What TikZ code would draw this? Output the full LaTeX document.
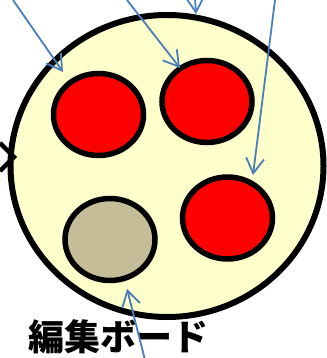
\documentclass[tikz,border=0pt]{standalone}
\usepackage{fontspec}
\newfontfamily\cjk{Noto Sans CJK JP}
\usetikzlibrary{shapes.geometric,arrows.meta}
\definecolor{boardyellow}{HTML}{FFFFCC}
\definecolor{pieceTan}{HTML}{C4BD97}
\definecolor{pointerblue}{HTML}{4A7EBB}
\tikzset{%
  board/.style   = {shape=ellipse, draw, line width=6pt, fill=boardyellow,%
                    minimum width=313pt, minimum height=302pt, inner sep=0pt},%
  piece/.style   = {shape=ellipse, draw, line width=5.5pt, fill=red,%
                    minimum width=90pt, minimum height=82pt, inner sep=0pt},%
  spare/.style   = {piece, fill=pieceTan},%
  pointer/.style = {draw=pointerblue, line width=1.8pt,%
                    -{Straight Barb[length=15pt,width=18pt,line width=1.8pt]}}%
}
\begin{document}
\begin{tikzpicture}[x=1pt,y=-1pt]
	\useasboundingbox (0,0) rectangle (326,358);
	% board and pieces
	\node (brd) at (167,166) [board] {};
	\node (p1) at (98.5,114.5) [piece] {};
	\node (p2) at (207,101.5) [piece] {};
	\node (p3) at (227.5,218) [piece] {};
	\node (p4) at (110,239.5) [spare] {};
	\node (lbl) at (118,337) [font=\cjk\bfseries\fontsize{36pt}{36pt}\selectfont, inner sep=0pt] {編集ボード};
	% black tip at the left
	\draw[line width=4.5pt] (0,143) -- (14,157) -- (0,171);
	% pointers
	\coordinate (s1) at (13,0);   \coordinate (t1) at (63,72);
	\coordinate (s2) at (127,0);  \coordinate (t2) at (180,68);
	\coordinate (s3) at (195,-2); \coordinate (t3) at (196,14);
	\coordinate (s4) at (275,0);  \coordinate (t4) at (253,175);
	\coordinate (s5) at (145,360);\coordinate (t5) at (127,289);
	\foreach \i in {1,...,5}
		\draw[pointer] (s\i) -- (t\i);
\end{tikzpicture}
\end{document}
